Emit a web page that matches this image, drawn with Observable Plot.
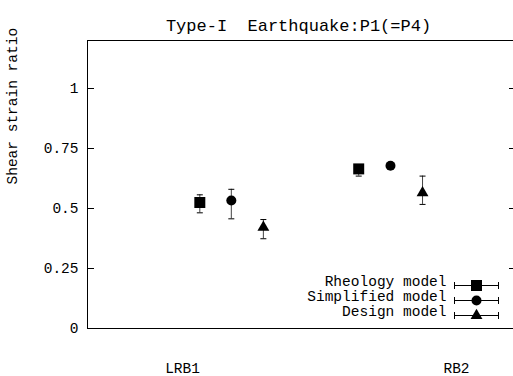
<!DOCTYPE html>
<html><head><meta charset="utf-8">
<script src="https://cdn.jsdelivr.net/npm/d3@7"></script>
<script src="https://cdn.jsdelivr.net/npm/@observablehq/plot@0.6"></script>
<style>body{margin:0;background:#fff} svg{display:block}</style>
</head><body><div id="chart"></div>
<script>
// ---- data ----
const title = "Type-I  Earthquake:P1(=P4)";
const yLabel = "Shear strain ratio";
const categories = ["LRB1", "RB2"];
const categoryX = [1, 2];
const series = ["Rheology model", "Simplified model", "Design model"];
const seriesX = [[1.063, 1.643], [1.178, 1.759], [1.295, 1.876]];
const rheologyValue = [0.525, 0.665];
const rheologyLow = [0.482, 0.635];
const rheologyHigh = [0.557, 0.680];
const simplifiedValue = [0.533, 0.678];
const simplifiedLow = [0.457, 0.668];
const simplifiedHigh = [0.580, 0.688];
const designValue = [0.422, 0.565];
const designLow = [0.374, 0.517];
const designHigh = [0.454, 0.635];
const yTicks = [0, 0.25, 0.5, 0.75, 1];
const yTickLabels = ["0", "0.25", "0.5", "0.75", "1"];

// ---- build table ----
const values = [rheologyValue, simplifiedValue, designValue];
const lows = [rheologyLow, simplifiedLow, designLow];
const highs = [rheologyHigh, simplifiedHigh, designHigh];
const data = series.flatMap((s, i) => categories.map((c, j) => ({
  series: s, category: c, x: seriesX[i][j], y: values[i][j], lo: lows[i][j], hi: highs[i][j]
})));

// ---- layout / style ----
const W = 513, H = 376, mL = 87, mR = -3, mT = 40, mB = 48;
const plotW = W - mL - mR;
const font = "'Liberation Mono', 'DejaVu Sans Mono', monospace";
const symbols = ["square", "circle", "triangle"];
const radii = [6.2, 5, 4.4];
const legendRowDy = [-43, -28, -13];
const cap = {draw(ctx) { ctx.moveTo(-3, 0); ctx.lineTo(3, 0); }};
const legendBar = {draw(ctx) {
  ctx.moveTo(-22, 0); ctx.lineTo(22, 0);
  ctx.moveTo(-22, -3.5); ctx.lineTo(-22, 3.5);
  ctx.moveTo(22, -3.5); ctx.lineTo(22, 3.5);
}};

const marks = [
  Plot.frame({stroke: "#000", strokeWidth: 1}),
  Plot.ruleY(yTicks, {y: d => d, insetRight: plotW - 7, stroke: "#000"}),
  Plot.ruleY(yTicks, {y: d => d, insetLeft: plotW - 7, stroke: "#000"}),
  Plot.axisY(yTicks, {tickSize: 0, tickPadding: 9, tickFormat: d => yTickLabels[yTicks.indexOf(d)], label: null, fontSize: 14.5}),
  Plot.axisX(categoryX, {tickSize: 0, tickPadding: 34, tickFormat: d => categories[categoryX.indexOf(d)], label: null, fontSize: 14.5}),
  Plot.text([yLabel], {frameAnchor: "left", rotate: -90, dx: -75, fontSize: 14.5, fill: "#000"}),
  Plot.text([title], {frameAnchor: "top", dy: -22, dx: -3.5, fontSize: 17, fill: "#000"}),
  Plot.ruleX(data, {x: "x", y1: "lo", y2: "hi", stroke: "#444"}),
  Plot.dot(data, {x: "x", y: "lo", symbol: cap, stroke: "#000", strokeWidth: 1}),
  Plot.dot(data, {x: "x", y: "hi", symbol: cap, stroke: "#000", strokeWidth: 1}),
  ...series.map((s, i) => Plot.dot(data.filter(d => d.series === s), {
    x: "x", y: "y", symbol: symbols[i], r: radii[i], fill: "#000", stroke: "none"
  })),
  ...series.flatMap((s, i) => [
    Plot.text([s], {frameAnchor: "bottom-right", dx: -70, dy: legendRowDy[i], textAnchor: "end", fontSize: 14.5, fill: "#000"}),
    Plot.dot([s], {frameAnchor: "bottom-right", dx: -40, dy: legendRowDy[i], symbol: legendBar, stroke: "#000", strokeWidth: 1}),
    Plot.dot([s], {frameAnchor: "bottom-right", dx: -40, dy: legendRowDy[i], symbol: symbols[i], r: radii[i], fill: "#000", stroke: "none"})
  ])
];

const chart = Plot.plot({
  width: W, height: H,
  marginLeft: mL, marginRight: mR, marginTop: mT, marginBottom: mB,
  style: {fontFamily: font, fontSize: "14.5px", color: "#000", background: "#fff"},
  x: {type: "linear", domain: [0.653, 2.219], axis: null},
  y: {domain: [0, 1.2], axis: null},
  marks
});
document.getElementById("chart").appendChild(chart);
</script>
</body></html>
